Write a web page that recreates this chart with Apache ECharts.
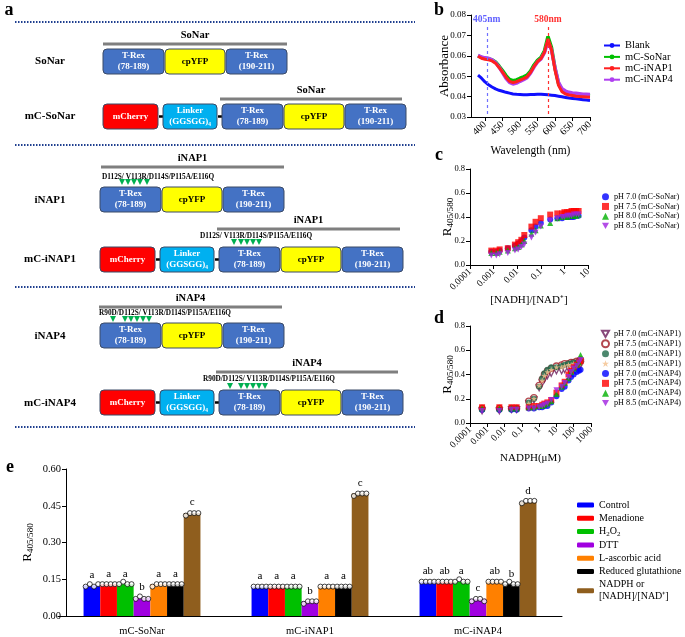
<!DOCTYPE html>
<html>
<head>
<meta charset="utf-8">
<script src="https://cdn.jsdelivr.net/npm/echarts@6/dist/echarts.min.js"></script>
<style>
html,body{margin:0;padding:0;background:#fff}
#main{width:685px;height:637px}
</style>
</head>
<body>
<div id="main"></div>
<script>
// ---- panel b: absorbance spectra
const wavelength = [380,390,400,410,420,430,440,450,460,470,480,490,500,510,520,530,540,550,560,570,580,590,600,610,620,630,640,650,660,670,680,690,700];
const absBlank = [0.0505,0.0490,0.0472,0.0458,0.0447,0.0438,0.0431,0.0426,0.0421,0.0417,0.0413,0.0411,0.0410,0.0409,0.0409,0.0410,0.0410,0.0411,0.0411,0.0410,0.0409,0.0407,0.0405,0.0402,0.0399,0.0396,0.0393,0.0391,0.0389,0.0387,0.0385,0.0383,0.0381];
const absSoNar = [0.0600,0.0592,0.0588,0.0586,0.0580,0.0570,0.0550,0.0528,0.0503,0.0484,0.0478,0.0482,0.0490,0.0497,0.0505,0.0525,0.0555,0.0578,0.0592,0.0625,0.0695,0.0640,0.0540,0.0465,0.0432,0.0420,0.0415,0.0412,0.0410,0.0408,0.0406,0.0405,0.0403];
const absINAP1 = [0.0598,0.0588,0.0583,0.0580,0.0575,0.0564,0.0543,0.0520,0.0495,0.0475,0.0469,0.0473,0.0481,0.0488,0.0497,0.0518,0.0548,0.0572,0.0586,0.0618,0.0683,0.0630,0.0530,0.0455,0.0424,0.0413,0.0408,0.0405,0.0402,0.0400,0.0399,0.0398,0.0397];
const absINAP4 = [0.0602,0.0594,0.0590,0.0588,0.0580,0.0567,0.0545,0.0518,0.0490,0.0470,0.0462,0.0466,0.0475,0.0483,0.0493,0.0515,0.0545,0.0570,0.0585,0.0615,0.0672,0.0628,0.0540,0.0470,0.0438,0.0427,0.0421,0.0418,0.0416,0.0414,0.0412,0.0411,0.0410];
const wlTicks = [400,450,500,550,600,650,700];

// ---- panel c: mC-SoNar titration
const nadhRatio = [0.0008,0.0013,0.0018,0.004,0.008,0.011,0.015,0.02,0.04,0.06,0.1,0.25,0.5,0.8,1.0,1.3,1.6,2.0,2.5,3.2,4.0];
const soPH70 = [0.11,0.11,0.12,0.14,0.16,0.18,0.20,0.23,0.29,0.32,0.35,0.38,0.39,0.39,0.40,0.40,0.40,0.40,0.40,0.41,0.41];
const soPH75 = [0.12,0.12,0.13,0.14,0.17,0.19,0.21,0.25,0.32,0.36,0.39,0.42,0.43,0.43,0.44,0.44,0.44,0.45,0.45,0.45,0.45];
const soPH80 = [0.10,0.10,0.11,0.12,0.14,0.15,0.17,0.20,0.26,0.29,0.33,0.35,0.39,0.40,0.40,0.40,0.41,0.41,0.41,0.41,0.42];
const soPH85 = [0.08,0.08,0.09,0.10,0.12,0.13,0.15,0.17,0.23,0.27,0.32,0.37,0.39,0.40,0.40,0.41,0.41,0.41,0.42,0.42,0.42];

// ---- panel d: NADPH titration
const nadph = [0.0005,0.005,0.025,0.05,0.25,0.5,1,1.5,2,3,5,10,20,30,50,70,100,150,200,250];
const i1PH70 = [0.10,0.10,0.11,0.11,0.16,0.19,0.29,0.33,0.36,0.39,0.41,0.43,0.43,0.44,0.45,0.45,0.46,0.47,0.47,0.48];
const i1PH75 = [0.12,0.12,0.12,0.12,0.18,0.21,0.31,0.36,0.40,0.43,0.45,0.47,0.48,0.49,0.49,0.50,0.50,0.51,0.51,0.52];
const i1PH80 = [0.11,0.11,0.12,0.12,0.17,0.20,0.30,0.37,0.41,0.44,0.46,0.46,0.47,0.48,0.49,0.49,0.50,0.50,0.51,0.51];
const i1PH85 = [0.11,0.11,0.12,0.12,0.16,0.20,0.31,0.35,0.39,0.42,0.44,0.46,0.46,0.47,0.48,0.48,0.49,0.49,0.50,0.50];
const i4PH70 = [0.11,0.11,0.11,0.11,0.12,0.12,0.13,0.13,0.14,0.14,0.17,0.22,0.28,0.30,0.35,0.38,0.40,0.42,0.43,0.44];
const i4PH75 = [0.13,0.13,0.13,0.13,0.13,0.14,0.14,0.15,0.16,0.17,0.19,0.25,0.31,0.34,0.40,0.43,0.46,0.48,0.50,0.51];
const i4PH80 = [0.12,0.12,0.12,0.12,0.13,0.13,0.14,0.14,0.15,0.16,0.18,0.24,0.30,0.33,0.37,0.42,0.45,0.48,0.50,0.56];
const i4PH85 = [0.10,0.10,0.11,0.11,0.12,0.12,0.13,0.14,0.15,0.16,0.19,0.27,0.30,0.33,0.38,0.42,0.45,0.47,0.50,0.52];

// ---- panel e: treatments
const eGroups = ['mC-SoNar','mC-iNAP1','mC-iNAP4'];
const eTreatments = ['Control','Menadione','H2O2','DTT','L-ascorbic acid','Reduced glutathione','NADPH or\n[NADH]/[NAD⁺]'];
const eControl   = [0.125,0.12,0.14];
const eMenadione = [0.13,0.12,0.14];
const eH2O2      = [0.13,0.12,0.14];
const eDTT       = [0.075,0.06,0.07];
const eAscorbic  = [0.13,0.12,0.14];
const eGSH       = [0.13,0.12,0.13];
const eNADPH     = [0.42,0.50,0.465];
const eLetters = [
    ['a','a','a','b','a','a','c'],
    ['a','a','a','b','a','a','c'],
    ['ab','ab','a','c','ab','b','d']
];
// four replicate dots per bar: [group][treatment]
const eReps = [
    [[0.12,0.13,0.12,0.13],[0.13,0.13,0.13,0.13],[0.13,0.14,0.13,0.13],[0.07,0.08,0.07,0.07],[0.12,0.13,0.13,0.13],[0.13,0.13,0.13,0.13],[0.41,0.42,0.42,0.42]],
    [[0.12,0.12,0.12,0.12],[0.12,0.12,0.12,0.12],[0.12,0.12,0.12,0.12],[0.05,0.06,0.06,0.06],[0.12,0.12,0.12,0.12],[0.12,0.12,0.12,0.12],[0.49,0.50,0.50,0.50]],
    [[0.14,0.14,0.14,0.14],[0.14,0.14,0.14,0.14],[0.14,0.15,0.14,0.14],[0.06,0.07,0.07,0.06],[0.14,0.14,0.14,0.14],[0.13,0.14,0.13,0.13],[0.46,0.47,0.47,0.47]]
];

const serif = 'Liberation Serif';
const chart = echarts.init(document.getElementById('main'));

// 通用坐标轴样式
let axisLine = {show: true, lineStyle: {color: '#000', width: 1}};
let axisTick = {show: true, length: 4, lineStyle: {color: '#000'}};
let lbl = (size, extra) => Object.assign({color: '#000', fontFamily: serif, fontSize: size}, extra || {});
let subName = size => ({
    color: '#000', fontFamily: serif,
    rich: {
        r: {fontSize: size, fontFamily: serif, color: '#000', lineHeight: size + 2},
        s: {fontSize: size * 0.7, fontFamily: serif, color: '#000', lineHeight: size * 0.7, verticalAlign: 'bottom'}
    }
});
let logFmt = v => String(parseFloat(v.toPrecision(2)));

// ---- panel a: construct diagrams (schematic drawn as graphics)
const segs = {
    trexN: {w: 61, fill: '#4472c4', text: 'T-Rex\n(78-189)', tc: '#fff'},
    yfp:   {w: 60, fill: '#ffff00', text: 'cpYFP', tc: '#000'},
    trexC: {w: 61, fill: '#4472c4', text: 'T-Rex\n(190-211)', tc: '#fff'},
    mch:   {w: 55, fill: '#ff0000', text: 'mCherry', tc: '#fff'},
    lnk:   {w: 54, fill: '#00b0f0', text: 'Linker\n(GGSGG)₄', tc: '#fff'}
};
const shortParts = ['trexN', 'yfp', 'trexC'];
const longParts = ['mch', '-', 'lnk', '-', 'trexN', 'yfp', 'trexC'];
const rows = [
    {label: 'SoNar', ly: 61, x0: 103, by: 49, parts: shortParts, bar: {x1: 103, x2: 287, y: 44, title: 'SoNar'}},
    {label: 'mC-SoNar', ly: 116, x0: 103, by: 104, parts: longParts, bar: {x1: 220, x2: 402, y: 99, title: 'SoNar'}},
    {label: 'iNAP1', ly: 200, x0: 100, by: 187, parts: shortParts, bar: {x1: 101, x2: 284, y: 167, title: 'iNAP1'},
        mut: {text: 'D112S/ V113R/D114S/P115A/E116Q', x: 102, y: 177, tri: [122, 128, 134, 140, 147], ty: 182}},
    {label: 'mC-iNAP1', ly: 259, x0: 100, by: 247, parts: longParts, bar: {x1: 217, x2: 400, y: 229, title: 'iNAP1'},
        mut: {text: 'D112S/ V113R/D114S/P115A/E116Q', x: 200, y: 236, tri: [234, 241, 247, 253, 259], ty: 242}},
    {label: 'iNAP4', ly: 336, x0: 100, by: 323, parts: shortParts, bar: {x1: 99, x2: 282, y: 307, title: 'iNAP4'},
        mut: {text: 'R90D/D112S/ V113R/D114S/P115A/E116Q', x: 99, y: 313, tri: [113, 125, 131, 137, 143, 149], ty: 319}},
    {label: 'mC-iNAP4', ly: 403, x0: 100, by: 390, parts: longParts, bar: {x1: 216, x2: 398, y: 372, title: 'iNAP4'},
        mut: {text: 'R90D/D112S/ V113R/D114S/P115A/E116Q', x: 203, y: 379, tri: [230, 241, 247, 253, 259, 265], ty: 386}}
];

let graphics = [];
let txt = (text, x, y, size, opts) => graphics.push({
    type: 'text', x: x, y: y, silent: true,
    style: Object.assign({text: text, fill: '#000', font: 'bold ' + size + 'px "' + serif + '"',
        textAlign: 'center', textVerticalAlign: 'middle'}, opts || {})
});

// 面板字母
txt('a', 9, 10, 18); txt('b', 439, 10, 18); txt('c', 439, 155, 18); txt('d', 439, 318, 18); txt('e', 10, 467, 18);

// 虚线分隔
[22, 145, 287, 427].forEach(y => graphics.push({
    type: 'line', silent: true,
    shape: {x1: 15, y1: y, x2: 415, y2: y},
    style: {stroke: '#1f3f8f', lineWidth: 2, lineDash: [1.5, 1.5]}
}));

rows.forEach(r => {
    txt(r.label, 50, r.ly, 11);
    graphics.push({type: 'line', silent: true, shape: {x1: r.bar.x1, y1: r.bar.y, x2: r.bar.x2, y2: r.bar.y},
        style: {stroke: '#7f7f7f', lineWidth: 3}});
    txt(r.bar.title, (r.bar.x1 + r.bar.x2) / 2, r.bar.y - 9, 10.5);
    if (r.mut) {
        txt(r.mut.text, r.mut.x, r.mut.y, 7.3, {textAlign: 'left'});
        r.mut.tri.forEach(x => graphics.push({type: 'polygon', silent: true,
            shape: {points: [[x - 3, r.mut.ty - 3], [x + 3, r.mut.ty - 3], [x, r.mut.ty + 3]]},
            style: {fill: '#00b050'}}));
    }
    let x = r.x0, h = 25;
    r.parts.forEach(p => {
        if (p === '-') {
            graphics.push({type: 'line', silent: true, shape: {x1: x, y1: r.by + h / 2, x2: x + 4, y2: r.by + h / 2},
                style: {stroke: '#000', lineWidth: 2.5}});
            x += 4;
            return;
        }
        let s = segs[p];
        graphics.push({type: 'rect', silent: true, shape: {x: x, y: r.by, width: s.w, height: h, r: 4},
            style: {fill: s.fill, stroke: '#3b4a66', lineWidth: 1}});
        txt(s.text, x + s.w / 2, r.by + h / 2, 9, {fill: s.tc, lineHeight: 11});
        x += s.w + 1;
    });
});

// ---- panel e replicate dot positions, derived from group / treatment index
const eGridW = 504, eBarW = 16.7;
let barFrac = eBarW / (eGridW / 3);
let eDots = [];
eReps.forEach((grp, g) => grp.forEach((reps, k) => reps.forEach((v, r) => {
    eDots.push([g + 0.5 + (k - 3) * barFrac + (r - 1.5) * barFrac / 4, v]);
})));

const eValues = [eControl, eMenadione, eH2O2, eDTT, eAscorbic, eGSH, eNADPH];
const eColors = ['#0000ff', '#ff0000', '#00c000', '#a000e0', '#ff8000', '#000000', '#8f5e1e'];

let invTri = 'path://M0,0 L10,0 L5,9 Z';
let star = 'path://M5,0 L6.2,3.6 L10,3.6 L7,5.9 L8.1,9.5 L5,7.3 L1.9,9.5 L3,5.9 L0,3.6 L3.8,3.6 Z';

let scatterC = (name, data, symbol, color) => ({
    name: name, type: 'scatter', xAxisIndex: 1, yAxisIndex: 1, symbol: symbol, symbolSize: 6,
    itemStyle: {color: color}, data: nadhRatio.map((x, i) => [x, data[i]])
});
let scatterD = (name, data, symbol, color, hollow) => ({
    name: name, type: 'scatter', xAxisIndex: 2, yAxisIndex: 2, symbol: symbol, symbolSize: 6,
    itemStyle: hollow ? {color: '#fff', borderColor: color, borderWidth: 1.3} : {color: color},
    data: nadph.map((x, i) => [x, data[i]])
});
let lineB = (name, data, color, w) => ({
    name: name, type: 'line', xAxisIndex: 0, yAxisIndex: 0, symbol: 'circle', symbolSize: 4, showSymbol: false,
    lineStyle: {color: color, width: w}, itemStyle: {color: color},
    data: wavelength.map((x, i) => [x, data[i]])
});

let series = [
    lineB('Blank', absBlank, '#1010ff', 3),
    lineB('mC-SoNar', absSoNar, '#00c000', 3.5),
    lineB('mC-iNAP4', absINAP4, '#b040f0', 3.5),
    lineB('mC-iNAP1', absINAP1, '#ff2020', 3),
    {
        type: 'line', xAxisIndex: 0, yAxisIndex: 0, data: [], silent: true,
        markLine: {
            symbol: 'none', silent: true,
            lineStyle: {type: [3, 3], width: 1.2},
            label: {position: 'end', fontFamily: serif, fontWeight: 'bold', fontSize: 9.5, distance: 2},
            data: [
                [{coord: [405, 0.0315], lineStyle: {color: '#7070ff'}, label: {formatter: '405nm', color: '#6060ff'}}, {coord: [405, 0.0745]}],
                [{coord: [580, 0.0315], lineStyle: {color: '#ff3030'}, label: {formatter: '580nm', color: '#ff3030'}}, {coord: [580, 0.0745]}]
            ]
        }
    },
    scatterC('pH 7.0 (mC-SoNar)', soPH70, 'circle', '#0000ff'),
    scatterC('pH 7.5 (mC-SoNar)', soPH75, 'rect', '#ff0000'),
    scatterC('pH 8.0 (mC-SoNar)', soPH80, 'triangle', '#00b000'),
    scatterC('pH 8.5 (mC-SoNar)', soPH85, invTri, '#a020e0'),
    scatterD('pH 7.0 (mC-iNAP1)', i1PH70, invTri, '#6a1b5a', true),
    scatterD('pH 7.5 (mC-iNAP1)', i1PH75, 'circle', '#a01c24', true),
    scatterD('pH 8.0 (mC-iNAP1)', i1PH80, 'circle', '#1f6a4a'),
    scatterD('pH 8.5 (mC-iNAP1)', i1PH85, star, '#f4c08c'),
    scatterD('pH 7.0 (mC-iNAP4)', i4PH70, 'circle', '#0000ff'),
    scatterD('pH 7.5 (mC-iNAP4)', i4PH75, 'rect', '#ff0000'),
    scatterD('pH 8.0 (mC-iNAP4)', i4PH80, 'triangle', '#00b000'),
    scatterD('pH 8.5 (mC-iNAP4)', i4PH85, invTri, '#a020e0')
];

eTreatments.forEach((name, k) => series.push({
    name: name, type: 'bar', xAxisIndex: 3, yAxisIndex: 3,
    barWidth: eBarW, barGap: '0%',
    itemStyle: {color: eColors[k]},
    label: {show: true, position: 'top', distance: 5, color: '#000', fontFamily: serif, fontSize: 11,
        formatter: p => eLetters[p.dataIndex][k]},
    data: eValues[k]
}));
series.push({
    type: 'scatter', xAxisIndex: 4, yAxisIndex: 3, symbol: 'circle', symbolSize: 5, z: 5, silent: true,
    itemStyle: {color: '#fff', borderColor: '#000', borderWidth: 0.9},
    data: eDots
});

let legendText = (size, lh) => ({color: '#000', fontFamily: serif, fontSize: size, lineHeight: lh || size});

let option = {
    animation: false,
    backgroundColor: '#fff',
    graphic: graphics,
    legend: [
        {data: ['Blank', 'mC-SoNar', 'mC-iNAP1', 'mC-iNAP4'], orient: 'vertical', left: 598, top: 35,
            itemWidth: 16, itemHeight: 6, itemGap: 0.4, textStyle: legendText(10.5, 10), selectedMode: false},
        {data: ['pH 7.0 (mC-SoNar)', 'pH 7.5 (mC-SoNar)', 'pH 8.0 (mC-SoNar)', 'pH 8.5 (mC-SoNar)'],
            orient: 'vertical', left: 597, top: 187, itemWidth: 7, itemHeight: 7, itemGap: 0.2,
            textStyle: legendText(8.2, 9.5), selectedMode: false},
        {data: ['pH 7.0 (mC-iNAP1)', 'pH 7.5 (mC-iNAP1)', 'pH 8.0 (mC-iNAP1)', 'pH 8.5 (mC-iNAP1)',
                'pH 7.0 (mC-iNAP4)', 'pH 7.5 (mC-iNAP4)', 'pH 8.0 (mC-iNAP4)', 'pH 8.5 (mC-iNAP4)'],
            orient: 'vertical', left: 596, top: 324, itemWidth: 7, itemHeight: 7, itemGap: 0.2,
            textStyle: legendText(8.2, 9.7), selectedMode: false},
        {data: eTreatments, orient: 'vertical', left: 572, top: 494, itemWidth: 17, itemHeight: 5, itemGap: 1.3,
            selectedMode: false,
            formatter: n => n === 'H2O2' ? '{n|H}{s|2}{n|O}{s|2}' : n,
            textStyle: Object.assign(legendText(10), {lineHeight: 12,
                rich: {n: {fontFamily: serif, fontSize: 10, color: '#000', lineHeight: 12},
                       s: {fontFamily: serif, fontSize: 7, color: '#000', lineHeight: 7, verticalAlign: 'bottom'}}})}
    ],
    grid: [
        {left: 471, top: 15, width: 119, height: 102},
        {left: 470, top: 169, width: 118, height: 96},
        {left: 470, top: 326, width: 121, height: 97},
        {left: 58, top: 469, width: eGridW, height: 150}
    ],
    xAxis: [
        {gridIndex: 0, type: 'value', min: 360, max: 700, axisLine: axisLine, axisTick: Object.assign({customValues: wlTicks}, axisTick),
            splitLine: {show: false}, axisLabel: lbl(10, {rotate: 45, margin: 6, customValues: wlTicks}),
            name: 'Wavelength (nm)', nameLocation: 'middle', nameGap: 28, nameTextStyle: lbl(11.5)},
        {gridIndex: 1, type: 'log', logBase: 10, min: 0.0001, max: 10, axisLine: axisLine, axisTick: axisTick,
            minorTick: {show: false}, splitLine: {show: false}, axisLabel: lbl(9.5, {rotate: 45, margin: 5, formatter: logFmt}),
            name: '[NADH]/[NAD⁺]', nameLocation: 'middle', nameGap: 27, nameTextStyle: lbl(11)},
        {gridIndex: 2, type: 'log', logBase: 10, min: 0.0001, max: 1000, axisLine: axisLine, axisTick: axisTick,
            minorTick: {show: false}, splitLine: {show: false}, axisLabel: lbl(9.5, {rotate: 45, margin: 5, formatter: logFmt}),
            name: 'NADPH(μM)', nameLocation: 'middle', nameGap: 27, nameTextStyle: lbl(11)},
        {gridIndex: 3, type: 'category', data: eGroups, axisLine: axisLine, axisTick: {show: false},
            axisLabel: lbl(10.5, {margin: 10})},
        {gridIndex: 3, type: 'value', min: 0, max: 3, show: false}
    ],
    yAxis: [
        {gridIndex: 0, type: 'value', min: 0.03, max: 0.08, interval: 0.01, axisLine: axisLine, axisTick: axisTick,
            splitLine: {show: false}, axisLabel: lbl(9, {margin: 5, formatter: v => v.toFixed(2)}),
            name: 'Absorbance', nameLocation: 'middle', nameGap: 20, nameMoveOverlap: false, nameTextStyle: lbl(13)},
        {gridIndex: 1, type: 'value', min: 0, max: 0.8, interval: 0.2, axisLine: axisLine, axisTick: axisTick,
            splitLine: {show: false}, axisLabel: lbl(8.5, {margin: 5, formatter: v => v.toFixed(1)}),
            name: '{r|R}{s|405/580}', nameLocation: 'middle', nameGap: 15, nameMoveOverlap: false, nameTextStyle: subName(13)},
        {gridIndex: 2, type: 'value', min: 0, max: 0.8, interval: 0.2, axisLine: axisLine, axisTick: axisTick,
            splitLine: {show: false}, axisLabel: lbl(8.5, {margin: 5, formatter: v => v.toFixed(1)}),
            name: '{r|R}{s|405/580}', nameLocation: 'middle', nameGap: 15, nameMoveOverlap: false, nameTextStyle: subName(13)},
        {gridIndex: 3, type: 'value', min: 0, max: 0.6, interval: 0.15, offset: -8, axisLine: axisLine, axisTick: axisTick,
            splitLine: {show: false}, axisLabel: lbl(10.5, {margin: 5, formatter: v => v.toFixed(2)}),
            name: '{r|R}{s|405/580}', nameLocation: 'middle', nameGap: 31, nameMoveOverlap: false, nameTextStyle: subName(13)}
    ],
    series: series
};

chart.setOption(option);
</script>
</body>
</html>
